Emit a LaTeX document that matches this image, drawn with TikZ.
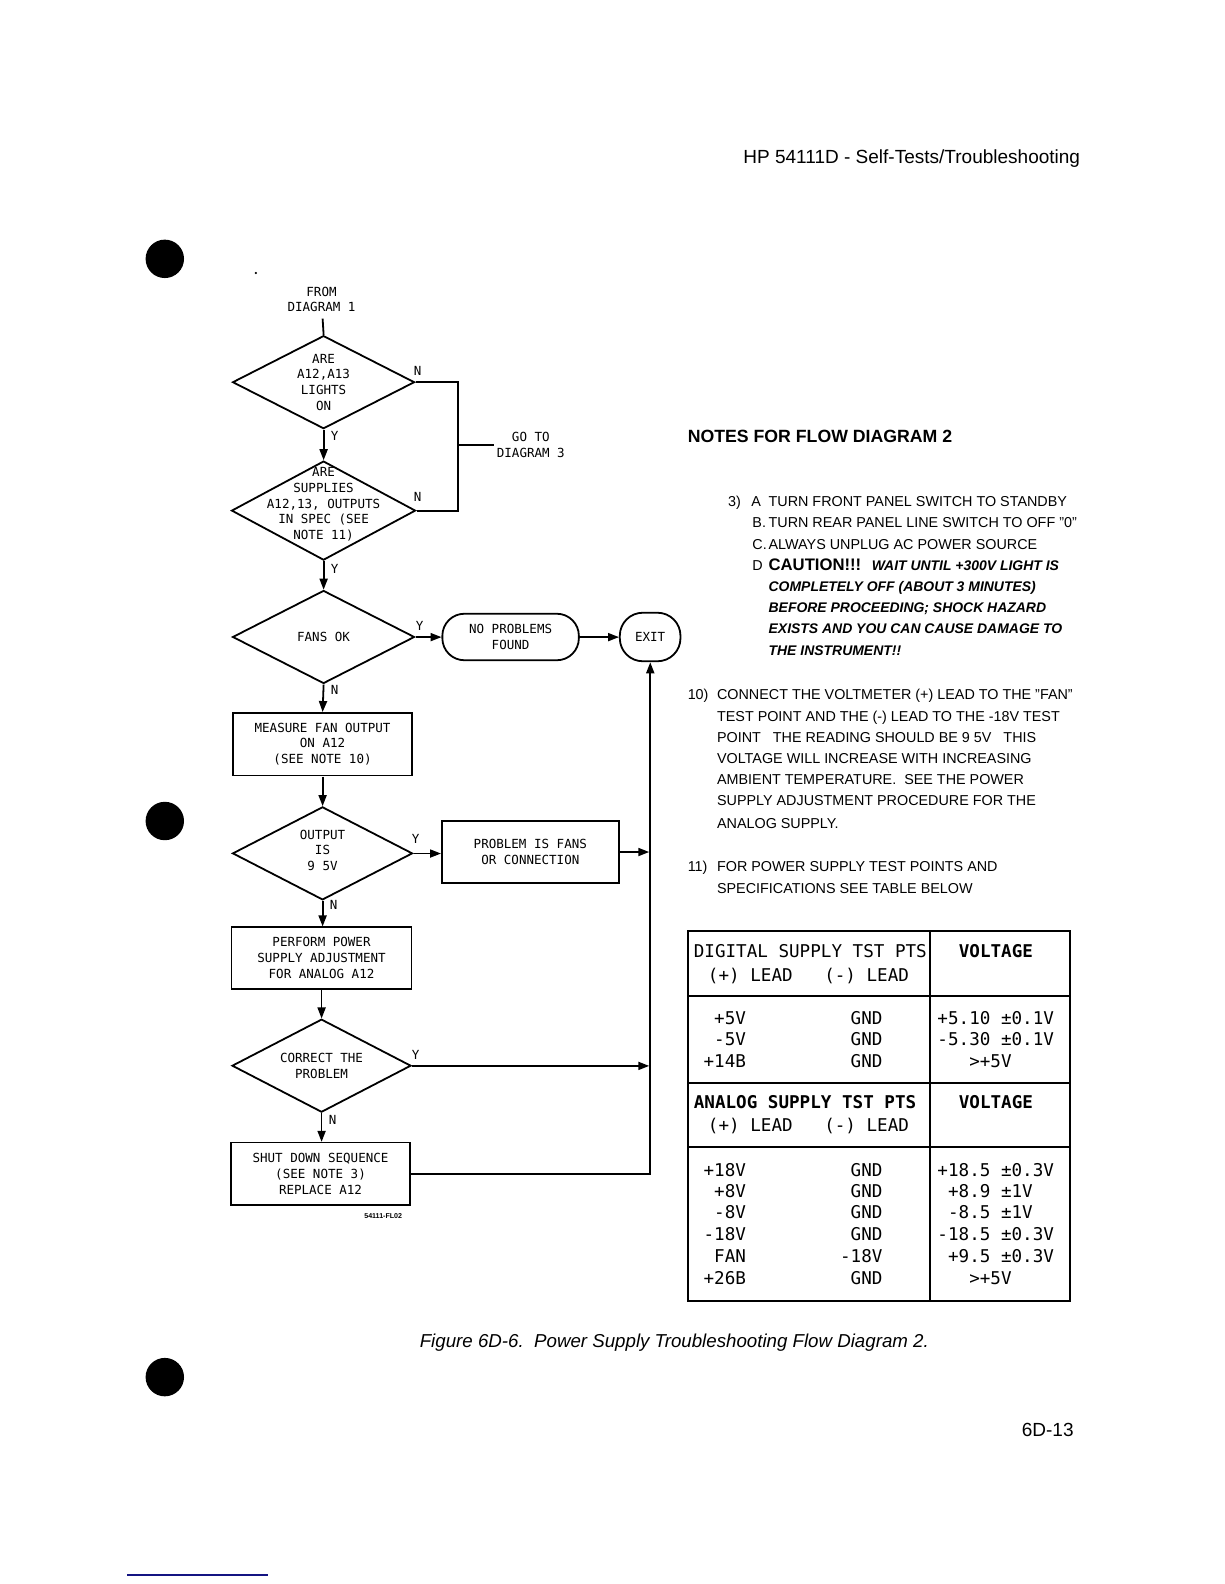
\documentclass[tikz,border=0pt]{standalone}
\usepackage{fontspec}
\setmainfont{Liberation Sans}
\newfontfamily\fcfont{DejaVu Sans Mono}
\newfontfamily\tbfont{DejaVu Sans Mono}
\usetikzlibrary{shapes.geometric,arrows.meta}
\tikzset{
  fl/.style={line width=1.8pt},
  arr/.style={fl,-{Triangle[length=11pt,width=8pt]}},
  dia/.style={draw,fl,diamond,inner sep=0pt},
  box/.style={draw,fl,inner sep=0pt},
  ftx/.style={font=\fcfont\fontsize{12.4}{15.5}\selectfont,align=center,inner sep=0pt},
  yn/.style={font=\fcfont\fontsize{12.4}{14}\selectfont,inner sep=0pt},
  nt/.style={font=\fontsize{14.2}{16}\selectfont,anchor=west,inner sep=0pt,text height=10.2pt,text depth=0pt},
  ntb/.style={font=\bfseries\itshape\fontsize{13.8}{16}\selectfont,anchor=west,inner sep=0pt,text height=9.9pt,text depth=0pt},
  tb/.style={line width=2pt},
  tt/.style={font=\tbfont\fontsize{17.4}{20}\selectfont,inner sep=0pt,text height=12.7pt,text depth=0pt},
  ttb/.style={tt,font=\tbfont\bfseries\fontsize{17.4}{20}\selectfont},
  pg/.style={font=\fontsize{18.8}{22}\selectfont,inner sep=0pt},
  hole/.style={fill=black}
}
\begin{document}
\begin{tikzpicture}[x=1pt,y=-1pt]
\useasboundingbox (0,0) rectangle (1224,1584);
\begin{scope}[scale=1.0111,transform shape]
% binder holes and specks
\fill[hole] (163,256) circle (19pt);
\fill[hole] (163,812) circle (19pt);
\fill[hole] (163,1362) circle (19pt);
\fill (253,270) circle (1.2pt);
\draw[line width=2pt,color={rgb,255:red,20;green,20;blue,130}] (126,1558) -- (265,1558);
% header / footer
\node[pg,anchor=west] (hdr) at (735,157) {HP 54111D - Self-Tests/Troubleshooting};
\node[pg,anchor=west,font=\itshape\fontsize{18.5}{22}\selectfont] (cap) at (415,1328) {Figure 6D-6.\ \ Power Supply Troubleshooting Flow Diagram 2.};
\node[pg,anchor=east] (pgn) at (1062,1414) {6D-13};

% ---------------- flow chart ----------------
\node[ftx] (from) at (318,296) {FROM\\DIAGRAM 1};
\coordinate (fromb) at (319,315);
\node[dia,minimum width=180pt,minimum height=92pt] (d1) at (320,378) {};
\node[ftx] (d1t) at (320,378) {ARE\\A12,A13\\LIGHTS\\ON};
\draw[fl] (fromb) -- (d1.north);

\node[dia,minimum width=182pt,minimum height=98pt] (d2) at (320,505) {};
\node[ftx] (d2t) at (320,499) {ARE\\SUPPLIES\\A12,13, OUTPUTS\\IN SPEC (SEE\\NOTE 11)};
\draw[arr] (d1.south) -- (d2.north);
\node[yn] (y1) at (331,431) {Y};

\coordinate (jn) at (453,440);
\coordinate (gt) at (488,440);
\draw[fl] (d1.east) -| (jn) |- (d2.east);
\draw[fl] (jn) -- (gt);
\node[ftx] (goto) at (525,440) {GO TO\\DIAGRAM 3};
\node[yn] (n1) at (413,367) {N};
\node[yn] (n2) at (413,491) {N};

\node[dia,minimum width=180pt,minimum height=92pt] (d3) at (320,630) {};
\node[ftx] (d3t) at (320,630) {FANS OK};
\draw[arr] (d2.south) -- (d3.north);
\node[yn] (y2) at (331,563) {Y};

\node[box,ftx,rounded corners=22pt,minimum width=135pt,minimum height=46pt] (np) at (505,630) {NO PROBLEMS\\FOUND};
\node[box,ftx,rounded corners=23pt,minimum width=60pt,minimum height=48pt] (exit) at (643,630) {EXIT};
\draw[arr] (d3.east) -- (np.west);
\node[yn] (y3) at (415,619) {Y};
\draw[arr] (np.east) -- (exit.west);

\node[box,ftx,minimum width=177pt,minimum height=62pt] (m) at (319,736) {MEASURE FAN OUTPUT\\ON A12\\(SEE NOTE 10)};
\draw[arr] (d3.south) -- (m.north);
\node[yn] (n3) at (331,682) {N};

\node[dia,minimum width=178pt,minimum height=92pt] (d4) at (319,844) {};
\node[ftx] (d4t) at (319,841) {OUTPUT\\IS\\9 5V};
\draw[arr] (m.south) -- (d4.north);

\node[box,ftx,minimum width=175pt,minimum height=61pt] (p) at (524.5,842.5) {PROBLEM IS FANS\\OR CONNECTION};
\draw[arr] (d4.east) -- (d4.east -| p.west);
\node[yn] (y4) at (411,830) {Y};

\coordinate (vx) at (642,1161);
\draw[arr] (p.east) -- (p.east -| vx);

\node[box,ftx,minimum width=178pt,minimum height=61pt] (pf) at (318,947.5) {PERFORM POWER\\SUPPLY ADJUSTMENT\\FOR ANALOG A12};
\draw[arr] (d4.south) -- (d4.south |- pf.north);
\node[yn] (n4) at (330,895) {N};

\node[dia,minimum width=177pt,minimum height=92pt] (d5) at (318,1054) {};
\node[ftx] (d5t) at (318,1054) {CORRECT THE\\PROBLEM};
\draw[arr] (pf.south) -- (d5.north);
\draw[arr] (d5.east) -- (d5.east -| vx);
\node[yn] (y5) at (411,1043) {Y};

\node[box,ftx,minimum width=177pt,minimum height=62pt] (s) at (317,1161) {SHUT DOWN SEQUENCE\\(SEE NOTE 3)\\REPLACE A12};
\draw[arr] (d5.south) -- (d5.south |- s.north);
\node[yn] (n5) at (329,1108) {N};
\draw[arr] (s.east) -| (exit.south);
\node[inner sep=0pt,font=\bfseries\fontsize{7}{8}\selectfont] (code) at (379,1203) {54111-FL02};

% ---------------- notes ----------------
\node[anchor=west,inner sep=0pt,font=\bfseries\fontsize{17.5}{20}\selectfont] (nh) at (680,432) {NOTES FOR FLOW DIAGRAM 2};
\node[nt] (k3) at (720,496) {3)};
\node[nt] (k3a) at (743,496) {A};
\node[nt] (t3a) at (760,496) {TURN FRONT PANEL SWITCH TO STANDBY};
\node[nt] (k3b) at (744,517) {B.};
\node[nt] (t3b) at (760,517) {TURN REAR PANEL LINE SWITCH TO OFF "0"};
\node[nt] (k3c) at (744,538) {C.};
\node[nt] (t3c) at (760,538) {ALWAYS UNPLUG AC POWER SOURCE};
\node[nt] (k3d) at (744,559) {D};
\node[anchor=west,inner sep=0pt,font=\bfseries\fontsize{16.5}{18}\selectfont,text height=11.8pt,text depth=0pt] (caut) at (760,558) {CAUTION!!!};
\node[ntb] (w1) at (862,559) {WAIT UNTIL +300V LIGHT IS};
\node[ntb] (w2) at (760,580) {COMPLETELY OFF (ABOUT 3 MINUTES)};
\node[ntb] (w3) at (760,601) {BEFORE PROCEEDING; SHOCK HAZARD};
\node[ntb] (w4) at (760,622) {EXISTS AND YOU CAN CAUSE DAMAGE TO};
\node[ntb] (w5) at (760,643) {THE INSTRUMENT!!};

\node[nt] (k10) at (680,687) {10)};
\node[nt] (t10a) at (709,687) {CONNECT THE VOLTMETER (+) LEAD TO THE "FAN"};
\node[nt] (t10b) at (709,708) {TEST POINT AND THE (-) LEAD TO THE -18V TEST};
\node[nt] (t10c) at (709,729) {POINT\ \ \ THE READING SHOULD BE 9 5V\ \ \ THIS};
\node[nt] (t10d) at (709,750) {VOLTAGE WILL INCREASE WITH INCREASING};
\node[nt] (t10e) at (709,771) {AMBIENT TEMPERATURE.\ \ SEE THE POWER};
\node[nt] (t10f) at (709,792) {SUPPLY ADJUSTMENT PROCEDURE FOR THE};
\node[nt] (t10g) at (709,814) {ANALOG SUPPLY.};

\node[nt] (k11) at (680,857) {11)};
\node[nt] (t11a) at (709,857) {FOR POWER SUPPLY TEST POINTS AND};
\node[nt] (t11b) at (709,879) {SPECIFICATIONS SEE TABLE BELOW};

% ---------------- table ----------------
\draw[tb] (680,921) rectangle (1058,1287);
\draw[tb] (920,921) -- (920,1287);
\draw[tb] (680,985) -- (1058,985);
\draw[line width=2.6pt] (680,1071) -- (1058,1071);
\draw[tb] (680,1134) -- (1058,1134);

\node[tt,anchor=west] (dh) at (686,941) {DIGITAL SUPPLY TST PTS};
\node[tt,anchor=west] (dp) at (700,964) {(+) LEAD};
\node[tt,anchor=west] (dm) at (815,964) {(-) LEAD};
\node[ttb] (dv) at (985,941) {VOLTAGE};
\node[ttb,anchor=west] (ah) at (686,1090) {ANALOG SUPPLY TST PTS};
\node[tt,anchor=west] (ap) at (700,1113) {(+) LEAD};
\node[tt,anchor=west] (am) at (815,1113) {(-) LEAD};
\node[ttb] (av) at (985,1090) {VOLTAGE};

\foreach \y/\a/\b/\c [count=\i] in {1007/+5V/GND/+5.10 ±0.1V, 1028/-5V/GND/-5.30 ±0.1V, 1049/+14B/GND/\hphantom{000}>+5V}{
  \node[tt,anchor=east] (dr\i a) at (738,\y) {\a};
  \node[tt,anchor=east] (dr\i b) at (873,\y) {\b};
  \node[tt,anchor=west] (dr\i c) at (927,\y) {\c};
}
\foreach \y/\a/\b/\c [count=\i] in {1157/+18V/GND/+18.5 ±0.3V, 1178/+8V/GND/\hphantom{0}+8.9 ±1V, 1199/-8V/GND/\hphantom{0}-8.5 ±1V, 1221/-18V/GND/-18.5 ±0.3V, 1242/FAN/-18V/\hphantom{0}+9.5 ±0.3V, 1264/+26B/GND/\hphantom{000}>+5V}{
  \node[tt,anchor=east] (ar\i a) at (738,\y) {\a};
  \node[tt,anchor=east] (ar\i b) at (873,\y) {\b};
  \node[tt,anchor=west] (ar\i c) at (927,\y) {\c};
}
\end{scope}
\end{tikzpicture}
\end{document}
